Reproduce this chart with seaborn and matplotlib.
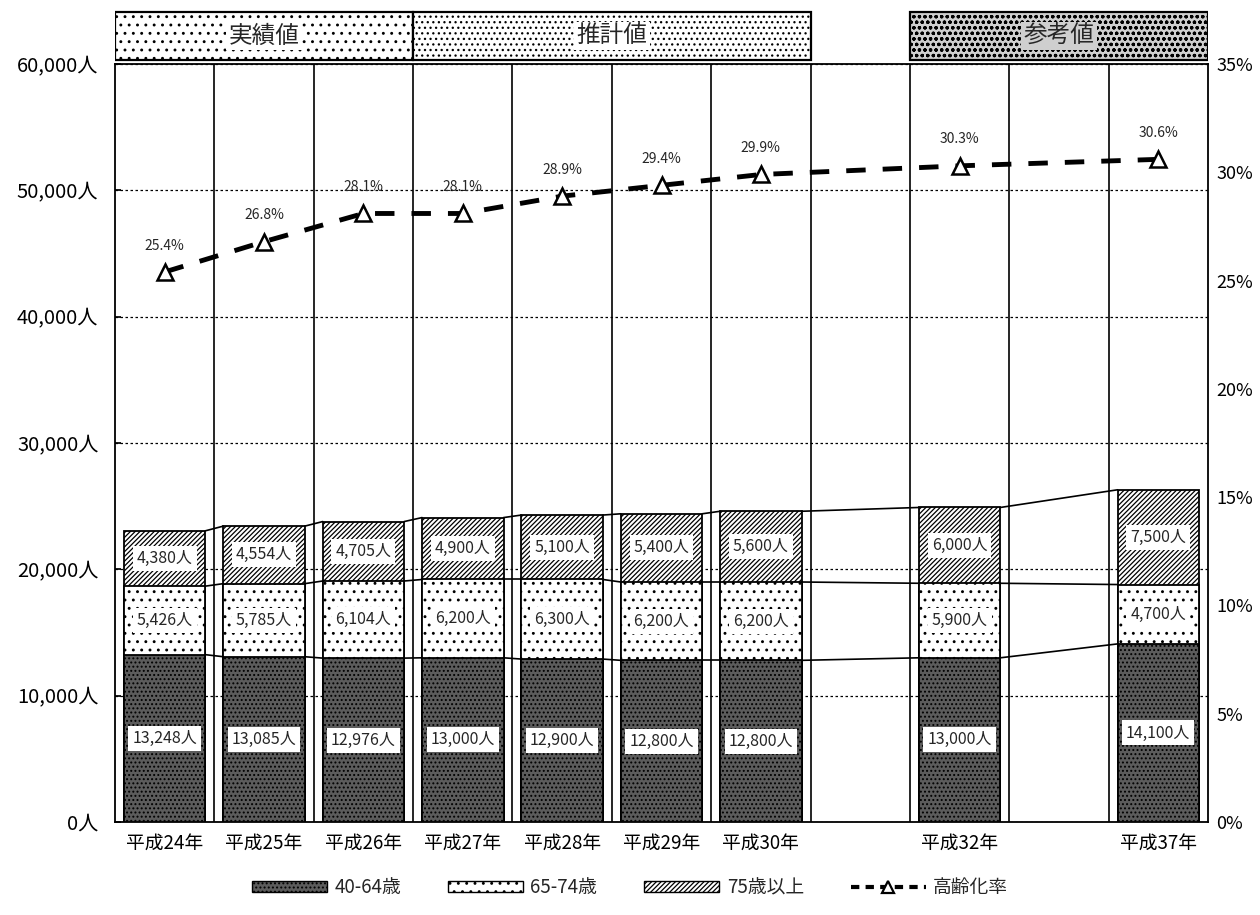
import matplotlib
matplotlib.use("Agg")
import matplotlib.pyplot as plt
import seaborn as sns
import numpy as np
import pandas as pd
from matplotlib.patches import Rectangle, Patch
from matplotlib.lines import Line2D

# ---------------- data ----------------
years = ["平成24年", "平成25年", "平成26年", "平成27年", "平成28年", "平成29年",
         "平成30年", "平成31年", "平成32年", "平成33年", "平成37年"]
year_shown = [True, True, True, True, True, True, True, False, True, False, True]
age_40_64 = [13248, 13085, 12976, 13000, 12900, 12800, 12800, np.nan, 13000, np.nan, 14100]
age_65_74 = [5426, 5785, 6104, 6200, 6300, 6200, 6200, np.nan, 5900, np.nan, 4700]
age_75p = [4380, 4554, 4705, 4900, 5100, 5400, 5600, np.nan, 6000, np.nan, 7500]
aging_rate = [25.4, 26.8, 28.1, 28.1, 28.9, 29.4, 29.9, np.nan, 30.3, np.nan, 30.6]
series_names = ["40-64歳", "65-74歳", "75歳以上", "高齢化率"]
header_labels = ["実績値", "推計値", "参考値"]
header_first = ["平成24年", "平成27年", "平成32年"]
header_last = ["平成26年", "平成30年", "平成37年"]
left_ticks = [0, 10000, 20000, 30000, 40000, 50000, 60000]
right_ticks = [0, 5, 10, 15, 20, 25, 30, 35]

# ---------------- style ----------------
sns.set_theme(style="white")
plt.rcParams['font.family'] = ['Noto Sans CJK JP', 'DejaVu Sans']
plt.rcParams['hatch.linewidth'] = 0.9
plt.rcParams['hatch.color'] = 'black'

df = pd.DataFrame({"year": years, "a": age_40_64, "b": age_65_74,
                   "c": age_75p, "rate": aging_rate})
df["mid"] = df["a"] + df["b"]
df["total"] = df["mid"] + df["c"]

fig = plt.figure(figsize=(12.6, 9.15), dpi=100)
ax = fig.add_axes([0.0913, 0.1016, 0.8674, 0.8284])
W = 0.82
DARK = "#5c5c5c"

sns.barplot(data=df, x="year", y="total", order=years, color="white", saturation=1,
            edgecolor="black", linewidth=1.3, hatch="///////", width=W,
            errorbar=None, ax=ax, zorder=3)
sns.barplot(data=df, x="year", y="mid", order=years, color="white", saturation=1,
            edgecolor="black", linewidth=1.3, hatch="..", width=W,
            errorbar=None, ax=ax, zorder=4)
sns.barplot(data=df, x="year", y="a", order=years, color=DARK, saturation=1,
            edgecolor="black", linewidth=1.3, hatch="....", width=W,
            errorbar=None, ax=ax, zorder=5)

valid = [i for i in range(len(years)) if not np.isnan(df["total"].iloc[i])]

# value labels
for i in valid:
    a, b, c = df["a"].iloc[i], df["b"].iloc[i], df["c"].iloc[i]
    for y, v in [(a / 2, a), (a + b / 2, b), (a + b + c / 2, c)]:
        ax.text(i, y, f"{v:,.0f}人", ha="center", va="center", fontsize=11.5, zorder=8,
                bbox=dict(boxstyle="square,pad=0.25", fc="white", ec="none"))

# series connector lines
for k in range(len(valid) - 1):
    i, j = valid[k], valid[k + 1]
    for col in ["a", "mid", "total"]:
        ax.plot([i + W / 2, j - W / 2], [df[col].iloc[i], df[col].iloc[j]],
                color="black", lw=1.2, zorder=6)

# slot dividers
for i in range(len(years) - 1):
    ax.axvline(i + 0.5, color="black", lw=1.2, zorder=2)

ax.set_xlim(-0.5, len(years) - 0.5)
ax.set_ylim(0, 60000)
ax.set_yticks(left_ticks)
ax.set_yticklabels([f"{v:,}人" for v in left_ticks], fontsize=14.5)
ax.set_xticks(range(len(years)))
ax.set_xticklabels([y if s else "" for y, s in zip(years, year_shown)], fontsize=13.5)
ax.set_xlabel("")
ax.set_ylabel("")
ax.grid(axis="y", color="black", lw=0.9, ls=(0, (2, 2)))
ax.grid(axis="x", visible=False)
ax.set_axisbelow(True)
ax.tick_params(axis="y", direction="in", length=4, pad=12, colors="black")
ax.tick_params(axis="x", length=0, pad=8, colors="black")
for s in ax.spines.values():
    s.set_color("black")
    s.set_linewidth(1.3)

# aging rate on right axis
ax2 = ax.twinx()
rate_df = pd.DataFrame({"pos": [i for i in valid], "rate": [aging_rate[i] for i in valid]})
sns.lineplot(data=rate_df, x="pos", y="rate", ax=ax2, color="black", lw=3.5,
             linestyle=(0, (4, 3.5)), marker="^", markersize=11,
             markerfacecolor="white", markeredgecolor="black", markeredgewidth=1.8,
             zorder=9)
for i in valid:
    ax2.annotate(f"{aging_rate[i]}%", (i, aging_rate[i]), xytext=(0, 14),
                 textcoords="offset points", ha="center", va="bottom", fontsize=10)
ax2.set_ylim(0, 35)
ax2.set_yticks(right_ticks)
ax2.set_yticklabels([f"{v}%" for v in right_ticks], fontsize=13)
ax2.tick_params(axis="y", length=0, pad=6, colors="black")
ax2.set_xlabel("")
ax2.set_ylabel("")
ax2.grid(False)
ax2.set_xlim(-0.5, len(years) - 0.5)
for s in ax2.spines.values():
    s.set_visible(False)

# header boxes
hdr = fig.add_axes([0.0913, 0.9322, 0.8674, 0.0568])
hdr.set_xlim(-0.5, len(years) - 0.5)
hdr.set_ylim(0, 1)
hdr.axis("off")
hatches = ["..", "...", "ooo"]
faces = ["white", "white", "#cfcfcf"]
for lab, f, l, h, fc in zip(header_labels, header_first, header_last, hatches, faces):
    x0 = years.index(f) - 0.5
    x1 = years.index(l) + 0.5
    hdr.add_patch(Rectangle((x0, 0.04), x1 - x0, 0.92, facecolor=fc, edgecolor="black",
                            hatch=h, lw=1.6))
    hdr.text((x0 + x1) / 2, 0.5, lab, ha="center", va="center", fontsize=17,
             bbox=dict(boxstyle="square,pad=0.1", fc=fc, ec="none"))

# legend
handles = [Patch(facecolor=DARK, edgecolor="black", hatch="...."),
           Patch(facecolor="white", edgecolor="black", hatch=".."),
           Patch(facecolor="white", edgecolor="black", hatch="///////"),
           Line2D([], [], color="black", lw=3, ls=(0, (2, 1.5)), marker="^",
                  markersize=9, markerfacecolor="white", markeredgewidth=1.6)]
fig.legend(handles, series_names, loc="lower center", bbox_to_anchor=(0.5, 0.0),
           ncol=4, frameon=False, fontsize=13.5, handlelength=4, handleheight=0.6,
           columnspacing=2.5, handletextpad=0.4)

fig.savefig("out.png", dpi=100, facecolor="white")
